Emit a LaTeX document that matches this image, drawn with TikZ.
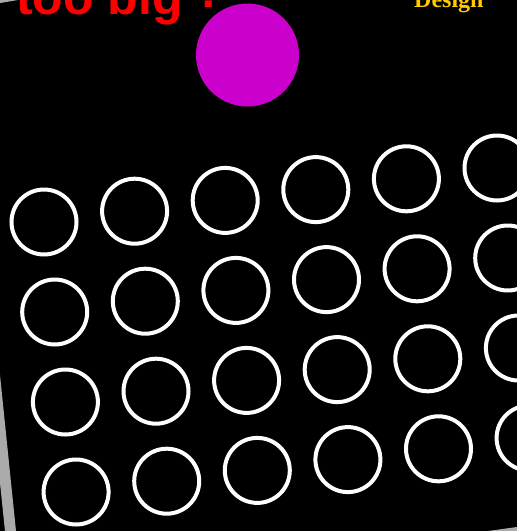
\documentclass[tikz,border=0pt]{standalone}
\usepackage{fontspec}
\setmainfont{Liberation Sans}
\newfontfamily\serifbold{Liberation Serif}
\definecolor{bandgrey}{RGB}{170,170,170}
\definecolor{bigmag}{RGB}{204,0,204}
\definecolor{gold}{RGB}{255,204,0}
\begin{document}
\begin{tikzpicture}[x=1pt,y=-1pt,
  ring/.style={draw=white,line width=4pt,fill=none},
  greyband/.style={fill=bandgrey,draw=none}]
\useasboundingbox (0,0) rectangle (517,531);
\clip (0,0) rectangle (517,531);
\fill[black] (0,0) rectangle (517,531);
% grey frame edges
\path[greyband] (0,375) -- (16,531) -- (5,531) -- (0,483) -- cycle;
\path[greyband] (488,531) -- (517,527) -- (517,531) -- cycle;
\path[greyband] (0,0) -- (18,0) -- (0,3) -- cycle;
% magenta disc
\node[circle,fill=bigmag,minimum size=103pt,inner sep=0pt] (disc) at (247.5,55) {};
% rings grid
\foreach \r in {0,...,3}{
  \foreach \c in {0,...,5}{
    \node[ring,circle,minimum size=65pt,inner sep=0pt] (ring\r\c)
      at ({44+90.6*\c+10.7*\r},{222-10.8*\c+90*\r}) {};
  }
}
% texts
\node[anchor=base west,inner sep=0pt,text=red,font=\fontsize{50}{50}\selectfont\bfseries] (title) at (16,14.5) {too big\hspace{18pt}\raisebox{7.5pt}{!}};
\node[anchor=base west,inner sep=0pt,text=gold,font=\serifbold\fontsize{24}{24}\selectfont\bfseries] (design) at (414,7.5) {Design};
\end{tikzpicture}
\end{document}
